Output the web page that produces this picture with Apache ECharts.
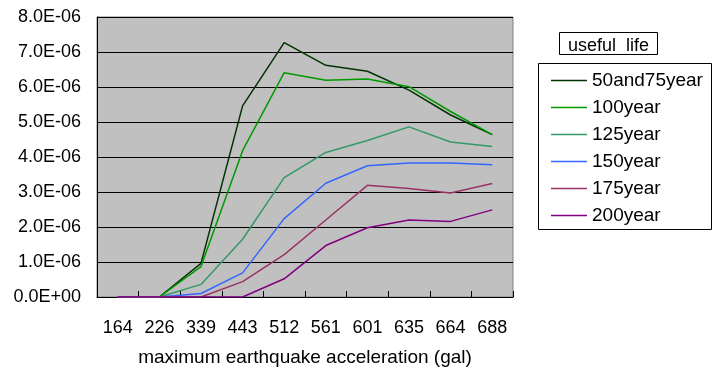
<!DOCTYPE html>
<html>
<head>
<meta charset="utf-8">
<script src="https://cdn.jsdelivr.net/npm/echarts@6/dist/echarts.min.js"></script>
<style>
  html, body { margin: 0; padding: 0; background: #ffffff; }
  #chart { width: 715px; height: 370px; }
</style>
</head>
<body>
<div id="chart"></div>
<script>
// Maximum earthquake acceleration (gal) categories
const categories = ['164', '226', '339', '443', '512', '561', '601', '635', '664', '688'];

// Y tick labels, in scientific notation
const yTickLabels = ['0.0E+00', '1.0E-06', '2.0E-06', '3.0E-06', '4.0E-06',
                     '5.0E-06', '6.0E-06', '7.0E-06', '8.0E-06'];

// Values per useful life (units of 1e-6)
const life50and75 = [0, 0, 0.96, 5.46, 7.27, 6.62, 6.45, 5.91, 5.20, 4.64];
const life100     = [0, 0, 0.87, 4.18, 6.41, 6.19, 6.23, 6.01, 5.30, 4.64];
const life125     = [0, 0, 0.36, 1.65, 3.41, 4.13, 4.47, 4.86, 4.43, 4.30];
const life150     = [0, 0, 0.10, 0.69, 2.24, 3.25, 3.75, 3.83, 3.83, 3.78];
const life175     = [0, 0, 0.00, 0.44, 1.21, 2.20, 3.19, 3.10, 2.97, 3.24];
const life200     = [0, 0, 0.00, 0.00, 0.52, 1.47, 1.98, 2.20, 2.16, 2.49];

const seriesNames = ['50and75year', '100year', '125year', '150year', '175year', '200year'];
const seriesData = [life50and75, life100, life125, life150, life175, life200];
const seriesColors = ['#003300', '#009900', '#339966', '#3366ff', '#993366', '#800080'];

const SCALE = 1e-6;
const font = '"Liberation Sans", Arial, sans-serif';

const chart = echarts.init(document.getElementById('chart'), null, { renderer: 'canvas' });

chart.setOption({
  animation: false,
  backgroundColor: '#ffffff',
  textStyle: { fontFamily: font, color: '#000' },
  grid: {
    left: 97, top: 17, right: 202, bottom: 73,
    outerBoundsMode: 'none',
    containLabel: false,
    show: true,
    backgroundColor: '#c0c0c0',
    borderColor: '#808080',
    borderWidth: 1
  },
  xAxis: {
    type: 'category',
    data: categories,
    boundaryGap: true,
    name: 'maximum earthquake acceleration (gal)',
    nameLocation: 'middle',
    nameGap: 51,
    nameTextStyle: { fontSize: 19, fontFamily: font, color: '#000' },
    axisLine: { lineStyle: { color: '#000', width: 1 } },
    axisTick: { show: true, inside: true, length: 6, lineStyle: { color: '#000' } },
    axisLabel: { fontSize: 18, fontFamily: font, color: '#000', margin: 22 },
    splitLine: { show: false }
  },
  yAxis: {
    type: 'value',
    min: 0,
    max: 8 * SCALE,
    interval: 1 * SCALE,
    axisLine: { show: true, lineStyle: { color: '#000', width: 1 } },
    axisTick: { show: false },
    axisLabel: {
      fontSize: 18, fontFamily: font, color: '#000', margin: 16,
      formatter: (v, i) => yTickLabels[i]
    },
    splitLine: { show: true, lineStyle: { color: '#000', width: 1 } }
  },
  legend: {
    orient: 'vertical',
    left: 551,
    top: 71,
    padding: 0,
    icon: 'rect',
    itemWidth: 36,
    itemHeight: 1.5,
    itemGap: 8,
    textStyle: { fontSize: 19, fontFamily: font, color: '#000', lineHeight: 19 },
    data: seriesNames
  },
  graphic: [
    { type: 'rect', shape: { x: 538.5, y: 63.5, width: 173, height: 166 },
      style: { fill: '#fff', stroke: '#000', lineWidth: 1 }, z: -1 },
    { type: 'rect', shape: { x: 559.5, y: 32.5, width: 98, height: 22 },
      style: { fill: '#fff', stroke: '#000', lineWidth: 1 } },
    { type: 'text', x: 608.5, y: 46, z: 10,
      style: { text: 'useful  life', font: '18px ' + font, fill: '#000',
               align: 'center', verticalAlign: 'middle' } }
  ],
  series: seriesNames.map((name, k) => ({
    name: name,
    type: 'line',
    data: seriesData[k].map(v => v * SCALE),
    symbol: 'none',
    lineStyle: { color: seriesColors[k], width: 1.5 },
    itemStyle: { color: seriesColors[k] }
  }))
});
</script>
</body>
</html>
